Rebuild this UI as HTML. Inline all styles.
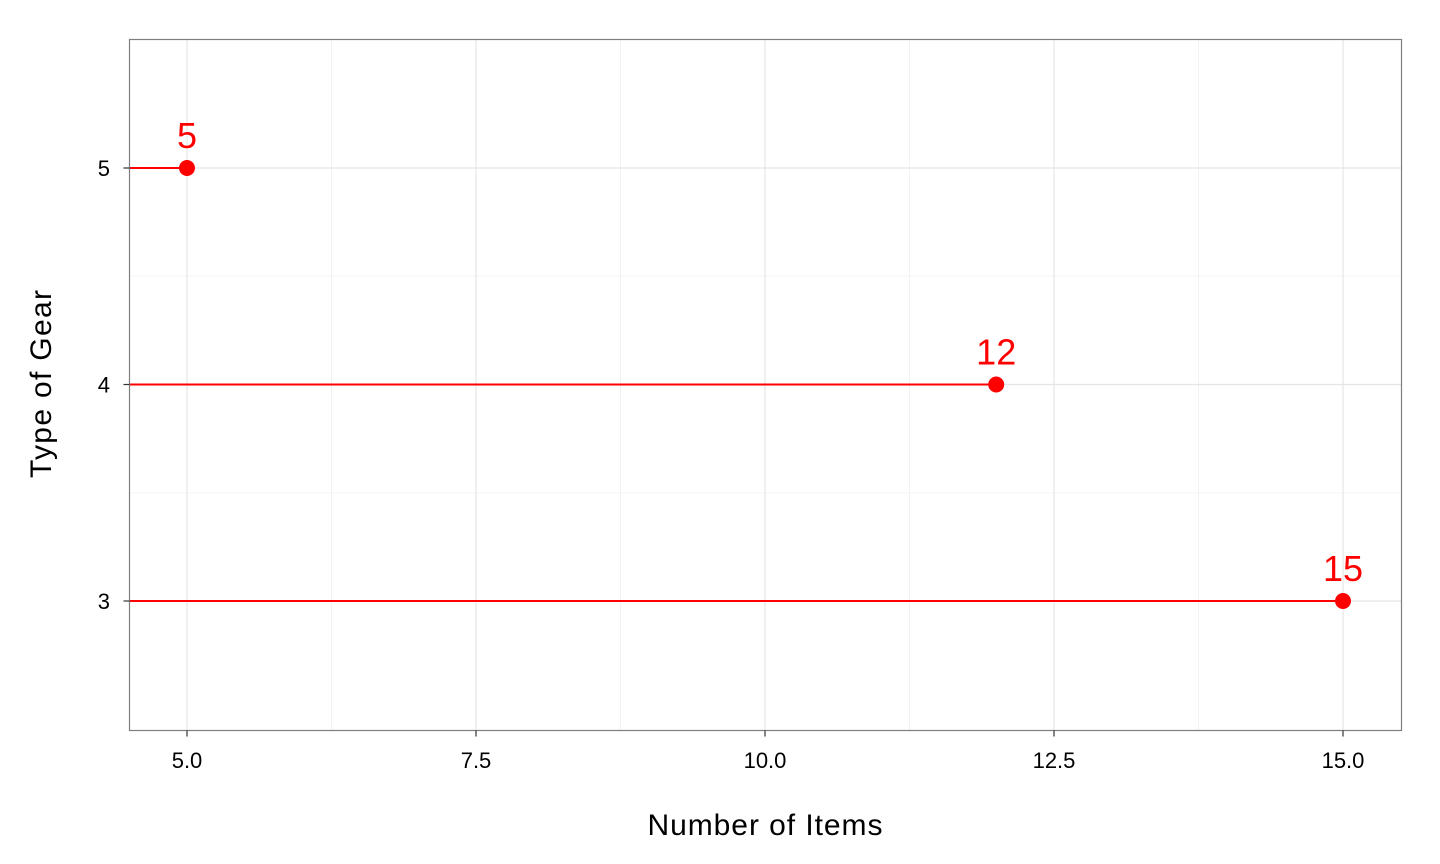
<!DOCTYPE html>
<html><head><meta charset="utf-8"><style>
body{margin:0;background:#fff;}
svg{display:block;font-family:"Liberation Sans",Arial,sans-serif;}
</style></head><body>
<svg id="chart" width="1440" height="864">
<g id="grid"></g>
<g id="marks"></g>
<rect x="129.5" y="39.5" width="1272" height="691" fill="none" stroke="#7f7f7f" stroke-width="1.2"/>
<g id="axes"></g>
<text x="765" y="835" text-anchor="middle" font-size="30" fill="#000" textLength="235">Number of Items</text>
<text transform="translate(51,384) rotate(-90)" text-anchor="middle" font-size="30" fill="#000" textLength="188">Type of Gear</text>
</svg>
<script>
const gears = [5, 4, 3];
const counts = [5, 12, 15];
const xTicks = [5, 7.5, 10, 12.5, 15];
const xTickLabels = ["5.0", "7.5", "10.0", "12.5", "15.0"];
const yTicks = [3, 4, 5];
const NS = "http://www.w3.org/2000/svg";
const L = 129.5, R = 1401.5, T = 39.5, B = 730.5;
const xs = v => 187 + (v - 5) * 115.6;
const ys = v => 601 - (v - 3) * 216.5;
function mk(tag, attrs, parent) {
  const e = document.createElementNS(NS, tag);
  for (const k in attrs) e.setAttribute(k, attrs[k]);
  parent.appendChild(e);
  return e;
}
const grid = document.getElementById('grid');
const marks = document.getElementById('marks');
const axes = document.getElementById('axes');
for (let i = 0; i < xTicks.length - 1; i++) {
  const m = (xTicks[i] + xTicks[i + 1]) / 2;
  const g = mk('line', {x1: xs(m), x2: xs(m), y1: T, y2: B, stroke: '#f2f2f2', 'stroke-width': 1}, grid);
  
  
}
for (const m of [3.5, 4.5]) {
  const g = mk('line', {x1: L, x2: R, y1: ys(m), y2: ys(m), stroke: '#f5f5f5', 'stroke-width': 1}, grid);
  
  
}
xTicks.forEach((v, i) => {
  const g = mk('line', {x1: xs(v), x2: xs(v), y1: T, y2: B, stroke: '#e5e5e5', 'stroke-width': 1.2}, grid);
  
  
  const t = mk('line', {x1: xs(v), x2: xs(v), y1: B, y2: B + 6, stroke: '#333', 'stroke-width': 1.2}, axes);
  
  
  const tx = mk('text', {x: xs(v), y: 768, 'text-anchor': 'middle', 'font-size': 22, fill: '#000'}, axes);
  tx.textContent = xTickLabels[i];
  
  
});
yTicks.forEach(v => {
  const g = mk('line', {x1: L, x2: R, y1: ys(v), y2: ys(v), stroke: '#e5e5e5', 'stroke-width': 1.2}, grid);
  
  
  const t = mk('line', {x1: L - 6, x2: L, y1: ys(v), y2: ys(v), stroke: '#333', 'stroke-width': 1.2}, axes);
  
  
  const tx = mk('text', {x: 110, y: ys(v) + 8, 'text-anchor': 'end', 'font-size': 22, fill: '#000'}, axes);
  tx.textContent = v;
  
  
});
gears.forEach((gv, i) => {
  const c = counts[i];
  const s = mk('line', {x1: L, x2: xs(c), y1: ys(gv), y2: ys(gv), stroke: '#ff0000', 'stroke-width': 2}, marks);
  
  
  const p = mk('circle', {cx: xs(c), cy: ys(gv), r: 8, fill: '#ff0000'}, marks);
  
  
  const t = mk('text', {x: xs(c), y: ys(gv) - 20, 'text-anchor': 'middle', 'font-size': 36, fill: '#ff0000'}, marks);
  t.textContent = c;
  
  
});
</script>
</body></html>
